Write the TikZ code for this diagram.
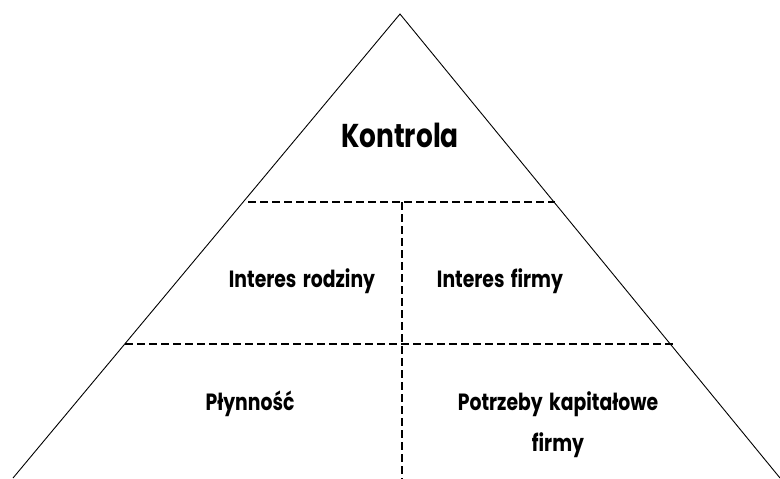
\documentclass[tikz,border=0pt]{standalone}
\usepackage{fontspec}
\setmainfont{Poppins}[FakeStretch=0.8, WordSpace=1.6]
\begin{document}
\begin{tikzpicture}[x=1pt,y=-1pt,
  edge/.style={line width=0.9pt, black},
  sep/.style={line width=1.1pt, black, dash pattern=on 8pt off 4pt},
  lbl/.style={font=\bfseries\fontsize{23.5}{41}\selectfont, align=center, inner sep=0pt},
  big/.style={font=\bfseries\fontsize{33}{38}\selectfont, inner sep=0pt}]
\useasboundingbox (0,0) rectangle (780,479);
\coordinate (apex) at (400,14);
\coordinate (bl) at (13,478);
\coordinate (br) at (780,478);
\draw[edge] (bl) -- (apex) -- (br);
\coordinate (a1) at (248,202);
\coordinate (a2) at (555,202);
\coordinate (b1) at (125,344);
\coordinate (b2) at (675,344);
\coordinate (v1) at (402,202);
\coordinate (v2) at (402,479);
\draw[sep] (a1) -- (a2);
\draw[sep] (b1) -- (b2);
\draw[sep] (v1) -- (v2);
\node[big, anchor=base] (k) at (400,147) {Kontrola};
\node[lbl, anchor=base] (ir) at (302,287) {Interes rodziny};
\node[lbl, anchor=base] (if) at (500,287) {Interes firmy};
\node[lbl, anchor=base] (pl) at (250,410) {Płynność};
\node[lbl, anchor=base] (pk) at (558,451) {Potrzeby kapitałowe\\firmy};
\end{tikzpicture}
\end{document}
